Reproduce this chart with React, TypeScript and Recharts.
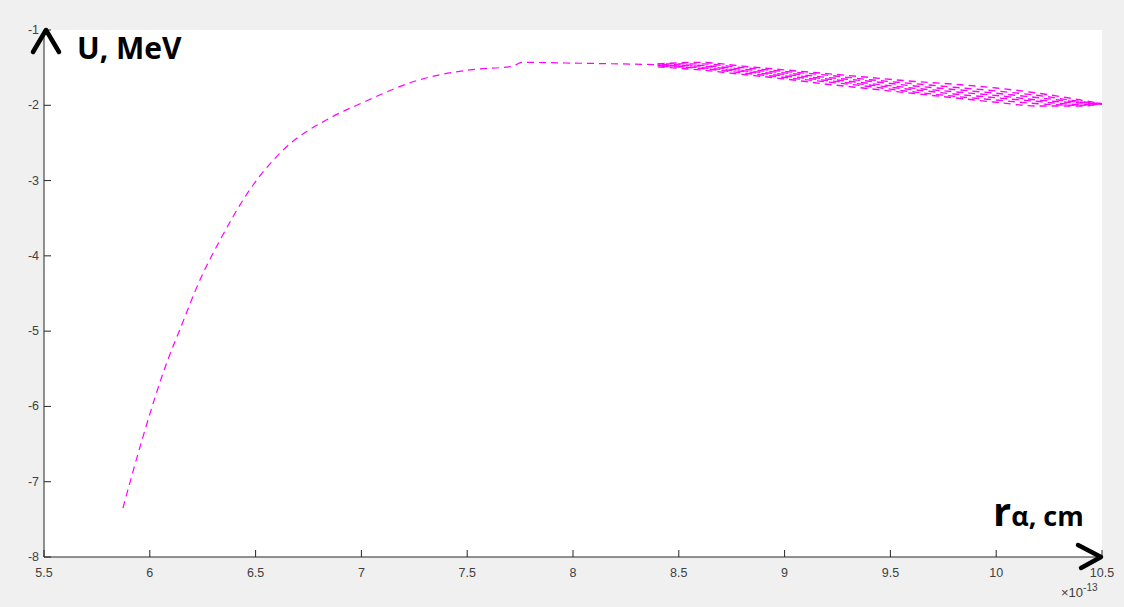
import React from "react";
import { LineChart, Line, XAxis, YAxis, CartesianGrid } from "recharts";

// main branch of the potential curve, x in units of 1e-13 cm, U in MeV
const mainX = [5.873, 5.967, 6.08, 6.142, 6.237, 6.332, 6.473, 6.639, 6.851, 7.002, 7.276, 7.513, 7.716, 7.758, 8.0, 8.41];
const mainU = [-7.35, -6.41, -5.42, -4.98, -4.32, -3.79, -3.12, -2.57, -2.17, -1.97, -1.66, -1.53, -1.48, -1.43, -1.44, -1.46];

// overlapping branches on the right side
const bandX = [8.4, 8.6, 8.8, 9.0, 9.2, 9.4, 9.6, 9.8, 10.0, 10.2, 10.4, 10.5];
const bandA = [-1.45, -1.43, -1.48, -1.53, -1.58, -1.63, -1.68, -1.72, -1.77, -1.84, -1.93, -1.98];
const bandB = [-1.45, -1.45, -1.5, -1.55, -1.6, -1.66, -1.71, -1.76, -1.81, -1.87, -1.95, -1.98];
const bandC = [-1.46, -1.47, -1.52, -1.57, -1.63, -1.68, -1.74, -1.79, -1.84, -1.9, -1.96, -1.98];
const bandD = [-1.47, -1.48, -1.54, -1.59, -1.65, -1.71, -1.77, -1.82, -1.87, -1.93, -1.97, -1.98];
const bandE = [-1.47, -1.5, -1.55, -1.61, -1.67, -1.73, -1.79, -1.85, -1.9, -1.95, -1.99, -1.98];
const bandF = [-1.48, -1.51, -1.57, -1.63, -1.69, -1.75, -1.82, -1.88, -1.93, -1.98, -2.0, -1.98];
const bandG = [-1.49, -1.53, -1.59, -1.65, -1.72, -1.78, -1.84, -1.9, -1.96, -2.01, -2.01, -1.98];

const xTicks = [5.5, 6, 6.5, 7, 7.5, 8, 8.5, 9, 9.5, 10, 10.5];
const yTicks = [-8, -7, -6, -5, -4, -3, -2, -1];

const toPoints = (xs: number[], ys: number[]) => xs.map((x, i) => ({ x, u: ys[i] }));

const mainData = toPoints(mainX, mainU);
const bands = [bandA, bandB, bandC, bandD, bandE, bandF, bandG].map((b) => toPoints(bandX, b));

const AXIS = "#262626";
const TICK_TEXT = "#404040";
const FONT = "'Liberation Sans', Arial, sans-serif";
const MAGENTA = "#ff00ff";

const BottomTick = (p: any) => (
  <g>
    <line x1={p.x} x2={p.x} y1={p.y} y2={p.y - 7} stroke={AXIS} />
    <text x={p.x} y={p.y + 20} textAnchor="middle" fontSize={12.5} fill={TICK_TEXT} fontFamily={FONT}>
      {p.payload.value}
    </text>
  </g>
);

const TopTick = (p: any) => <line x1={p.x} x2={p.x} y1={p.y} y2={p.y + 7} stroke={AXIS} />;

const LeftTick = (p: any) => (
  <g>
    <line x1={p.x} x2={p.x + 7} y1={p.y} y2={p.y} stroke={AXIS} />
    <text x={p.x - 5} y={p.y + 4} textAnchor="end" fontSize={12.5} fill={TICK_TEXT} fontFamily={FONT}>
      {p.payload.value}
    </text>
  </g>
);

const RightTick = (p: any) => <line x1={p.x} x2={p.x - 7} y1={p.y} y2={p.y} stroke={AXIS} />;

export default function App() {
  return (
    <div
      style={{
        position: "absolute",
        left: 0,
        top: 0,
        width: 1124,
        height: 607,
        background: "#f0f0f0",
        overflow: "hidden",
      }}
    >
      <LineChart width={1124} height={607} margin={{ top: 30, right: 22, bottom: 20, left: 0 }}>
        <CartesianGrid horizontal={false} vertical={false} fill="#ffffff" />
        <XAxis
          dataKey="x"
          type="number"
          domain={[5.5, 10.5]}
          ticks={xTicks}
          allowDataOverflow
          height={30}
          tickSize={0}
          tickMargin={0}
          tick={<BottomTick />}
          axisLine={{ stroke: AXIS }}
          tickLine={false}
        />
        <XAxis
          xAxisId="top"
          orientation="top"
          dataKey="x"
          type="number"
          domain={[5.5, 10.5]}
          ticks={xTicks}
          height={0}
          tickSize={0}
          tickMargin={0}
          tick={<TopTick />}
          axisLine={{ stroke: AXIS }}
          tickLine={false}
        />
        <YAxis
          type="number"
          domain={[-8, -1]}
          ticks={yTicks}
          allowDataOverflow
          width={44}
          tickSize={0}
          tickMargin={0}
          tick={<LeftTick />}
          axisLine={{ stroke: AXIS }}
          tickLine={false}
        />
        <YAxis
          yAxisId="right"
          orientation="right"
          type="number"
          domain={[-8, -1]}
          ticks={yTicks}
          width={0}
          tickSize={0}
          tickMargin={0}
          tick={<RightTick />}
          axisLine={{ stroke: AXIS }}
          tickLine={false}
        />
        <Line
          data={mainData}
          dataKey="u"
          type="monotone"
          stroke={MAGENTA}
          strokeWidth={1.2}
          strokeDasharray="7 5"
          dot={false}
          isAnimationActive={false}
        />
        {bands.map((b, i) => (
          <Line
            key={i}
            data={b}
            dataKey="u"
            type="monotone"
            stroke={MAGENTA}
            strokeWidth={1.4}
            strokeDasharray="7 5"
            strokeDashoffset={i * 4}
            dot={false}
            isAnimationActive={false}
          />
        ))}
      </LineChart>

      <svg
        width={1124}
        height={607}
        style={{ position: "absolute", left: 0, top: 0, pointerEvents: "none" }}
      >
        <polyline points="33,52 46,30 59,52" fill="none" stroke="#000" strokeWidth={4.5} strokeLinecap="round" strokeLinejoin="round" />
        <polyline points="1078,545 1101,557 1081,568" fill="none" stroke="#000" strokeWidth={4.5} strokeLinecap="round" strokeLinejoin="round" />
      </svg>

      <div
        style={{
          position: "absolute",
          left: 77,
          top: 28,
          fontFamily: "'Open Sans', 'Noto Sans', sans-serif",
          fontWeight: 700,
          fontSize: 30,
          lineHeight: "40px",
          color: "#000",
          whiteSpace: "nowrap",
        }}
      >
        U, MeV
      </div>
      <div
        style={{
          position: "absolute",
          left: 993,
          top: 489,
          fontFamily: "'Open Sans', 'Noto Sans', sans-serif",
          fontWeight: 700,
          color: "#000",
          whiteSpace: "nowrap",
          lineHeight: "44px",
        }}
      >
        <span style={{ fontSize: 40 }}>r</span>
        <span style={{ fontSize: 27 }}>α, cm</span>
      </div>
      <div
        style={{
          position: "absolute",
          left: 1061,
          top: 585,
          fontFamily: FONT,
          fontSize: 13,
          color: TICK_TEXT,
          whiteSpace: "nowrap",
          lineHeight: "16px",
        }}
      >
        ×10<sup style={{ fontSize: 10, verticalAlign: "top", position: "relative", top: -5 }}>-13</sup>
      </div>
    </div>
  );
}
